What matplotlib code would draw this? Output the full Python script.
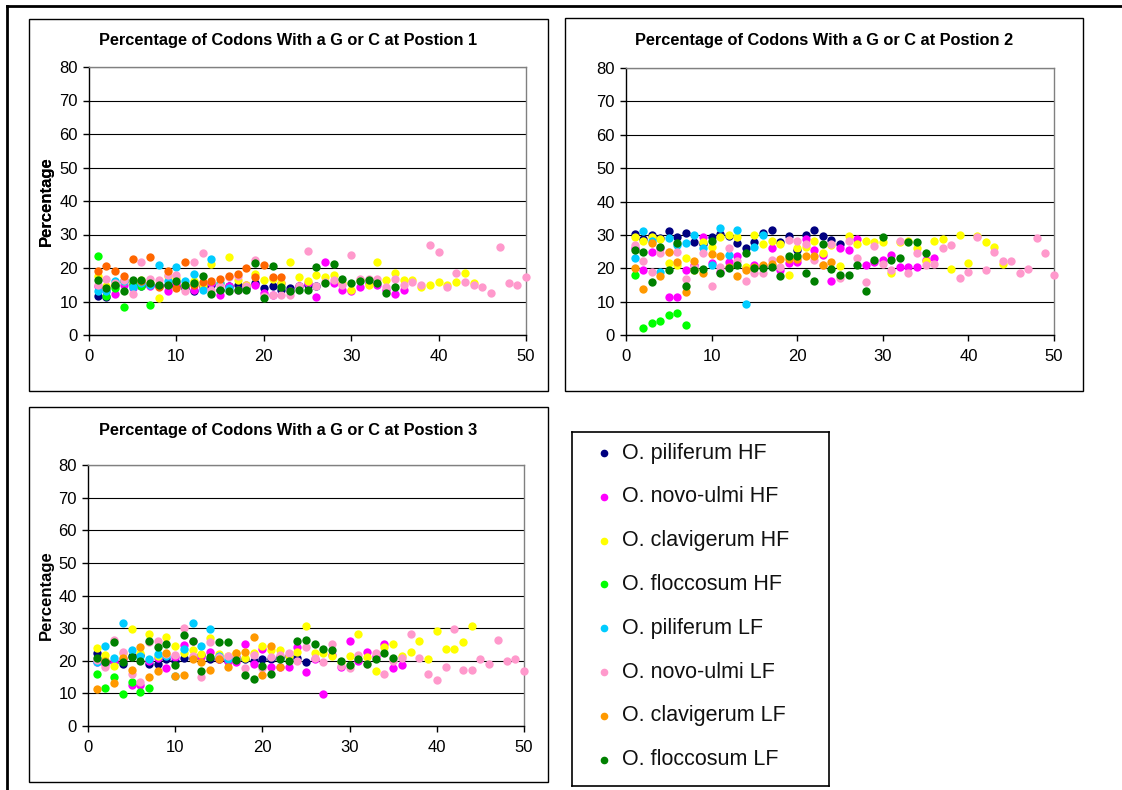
import matplotlib.pyplot as plt
from matplotlib.patches import Rectangle
from matplotlib.lines import Line2D

plt.rcParams['font.family'] = ['Liberation Sans', 'DejaVu Sans']

W, H = 1122, 790

series_names = ['O. piliferum HF', 'O. novo-ulmi HF', 'O. clavigerum HF', 'O. floccosum HF',
                'O. piliferum LF', 'O. novo-ulmi LF', 'O. clavigerum LF', 'O. floccosum LF']
series_colors = ['#000080', '#FF00FF', '#FFFF00', '#00FF00',
                 '#00CCFF', '#FF99CC', '#FF9900', '#008000']

# GC content at codon position 1 (%), one value per gene
pos1_piliferum_hf = [11.5, 11.2, 15, 16, 15.5, 14.5, 15, 14.5, 15, 14.5, 14, 13.2, 14.5, 15, 13.5,
                     14.5, 14.9, 14, 15.5, 14, 14.5, 13.5, 13.9, 14.5, 15, 14.5]
pos1_novo_ulmi_hf = [14.5, 13, 12.3, 15, 14, 15.5, 14.5, 15, 13, 15.5, 14.2, 13.5, 14, 15.5, 11.8,
                     14.5, 13.5, 15, 14.9, 12.5, 12, 15.5, 13, 14.5, 15.5, 11.2, 21.7, 15.5, 13.5,
                     13, 14.4, 15.5, 15, 13.5, 12.2, 13.5]
pos1_clavigerum_hf = [17.5, 14.5, 15.5, 16, 15.8, 16.5, 15.5, 11, 17.5, 17, 15, 16, 15, 21.3, 15.5,
                      23.4, 16.5, 15, 18.2, 16.3, 16.7, 15.5, 21.8, 17.2, 16, 18, 17.3, 18, 15.5,
                      13.5, 16.5, 15, 21.8, 16.3, 18.5, 16.5, 16.4, 14.4, 14.9, 15.8, 15, 15.8,
                      18.5, 15.5]
pos1_floccosum_hf = [23.5, 11.7, 14, 8.5, 15, 14.5, 9]
pos1_piliferum_lf = [13, 13, 16.2, 16, 14.4, 15.5, 15, 20.8, 16, 20.4, 16.2, 18.1, 13.5, 22.7, 15.5, 14]
pos1_novo_ulmi_lf = [15, 16.7, 15.5, 16.3, 12.2, 21.8, 16.7, 16.5, 18, 18, 13.2, 21.8, 24.5, 13.5,
                     14.5, 17.2, 17.5, 14.5, 22.4, 11.5, 12, 11.8, 12, 14.5, 25.2, 14.5, 15.8, 16.5,
                     14.9, 23.8, 16.7, 16.8, 16.7, 14.4, 16.7, 14.9, 15.7, 14.9, 27, 24.9, 14.4,
                     18.5, 15.8, 14.9, 14.4, 12.6, 26.2, 15.4, 14.9, 17.2]
pos1_clavigerum_lf = [19, 20.5, 19, 17.5, 22.8, 16.2, 23.3, 14.2, 19, 14, 21.8, 15, 15.7, 16.2, 16.7,
                      17.7, 18.2, 19.9, 17.3, 21, 17.2, 17.4]
pos1_floccosum_lf = [16.5, 14, 14.8, 13.2, 16.3, 16.5, 15.5, 15, 15, 16, 15, 15.5, 17.7, 12.3, 13.4,
                     13.2, 13.5, 13.4, 21.5, 11, 20.5, 14.2, 13, 13.4, 13.5, 20.3, 15.5, 21.3, 16.7,
                     15.4, 16, 16.5, 15.6, 12.4, 14.4]

# GC content at codon position 2 (%)
pos2_piliferum_hf = [30.3, 28.8, 30.1, 29, 31.1, 29.3, 30.6, 27.8, 27.3, 29.3, 30.3, 29.7, 27.5, 26.1,
                     27.8, 30.7, 31.6, 28, 29.8, 25.5, 30.1, 31.6, 29.8, 28.5, 27.4]
pos2_novo_ulmi_hf = [26, 19.5, 24.9, 26, 11.5, 11.5, 19.5, 21, 29.3, 21.5, 19, 22, 23.7, 20, 21, 20.7,
                     26, 19.4, 21.7, 22, 28.8, 25.5, 24, 16.2, 26, 25.6, 28.8, 20.9, 22, 22.6, 24.1,
                     20.4, 20.4, 20.4, 22.6, 23.2]
pos2_clavigerum_hf = [29.3, 28.3, 29.3, 28.8, 21.7, 20.9, 23.2, 19.4, 28, 26.5, 29.3, 30.1, 29.3, 20.5,
                      30.1, 27.4, 28.3, 27.4, 18.1, 26, 26.3, 28.3, 24.5, 27, 20.7, 29.8, 27.4, 28.3,
                      27.8, 27.8, 18.5, 28, 28.3, 26, 22.2, 28.3, 28.8, 19.9, 30.1, 21.7, 29.6, 27.8,
                      26.5, 21.4]
pos2_floccosum_hf = [18.1, 2.2, 3.6, 4.1, 6, 6.5, 3.1]
pos2_piliferum_lf = [23.2, 31.1, 28.3, 19, 29.2, 27, 27.5, 30.1, 26, 20.9, 32.1, 24.1, 31.6, 9.3, 26.5, 30]
pos2_novo_ulmi_lf = [27, 22.2, 19, 24.7, 25, 25, 16.7, 20.5, 24.5, 14.8, 20.4, 26, 22.2, 16.2, 18.5,
                     18.5, 22.6, 20.4, 28.5, 28.3, 27.3, 22.6, 21, 27.4, 17.2, 28.3, 23.2, 15.8, 26.8,
                     21.3, 19.4, 28.3, 18.5, 24.5, 20.9, 21.3, 26, 26.9, 17.2, 19, 29.3, 19.5, 25,
                     22.2, 22.2, 18.5, 19.9, 29.2, 24.5, 18.1]
pos2_clavigerum_lf = [20, 13.8, 27.5, 17.7, 24.9, 22, 12.9, 22.2, 18.7, 24.2, 23.6, 20.5, 17.7, 19.4,
                      20.5, 21, 21.4, 22.8, 22.7, 22.7, 23.6, 23.6, 21, 22]
pos2_floccosum_lf = [25.5, 24.9, 15.8, 26.5, 19.4, 27.6, 14.7, 19.4, 19.8, 28.3, 18.6, 20, 21, 24.5,
                     20, 20.2, 20.4, 17.6, 23.6, 23.6, 18.5, 16.2, 27.4, 19.9, 18, 18.1, 20.9, 13.3,
                     22.6, 29.3, 22.6, 23.2, 27.9, 27.9, 24.5]

# GC content at codon position 3 (%)
pos3_piliferum_hf = [22.3, 20, 19.5, 19.1, 21.5, 21.8, 19.1, 19.1, 20.5, 20, 20.9, 20.9, 21.8, 20.5,
                     20.5, 20, 21, 20.5, 20, 20.5, 20.5, 21, 21.5, 20.9, 19.6]
pos3_novo_ulmi_hf = [19.5, 19, 20, 20.5, 12.5, 12.5, 20, 20.8, 17.7, 21, 24.7, 26, 21, 22.8, 20.5, 20,
                     19.5, 25, 19.1, 23.6, 18.2, 18.2, 18.2, 24.1, 16.4, 20.5, 9.9, 21.8, 18.2, 26,
                     20, 22.8, 21.5, 25, 17.7, 18.6]
pos3_clavigerum_hf = [24, 21.7, 18.5, 22.5, 29.6, 22.5, 28.3, 21.5, 27.4, 24.6, 22.5, 23.2, 22, 26.9,
                      22.1, 21.5, 22.5, 20.7, 22.4, 24.6, 23.2, 23.2, 21.5, 22.8, 30.6, 22.3, 22.5,
                      21.5, 19.5, 21.4, 28.3, 21, 16.8, 24.1, 25, 21.5, 22.7, 26, 20.5, 29.2, 23.7,
                      23.7, 25.6, 30.6]
pos3_floccosum_hf = [15.8, 11.7, 15, 9.8, 13.5, 10.3, 11.7]
pos3_piliferum_lf = [19.5, 24.5, 20.8, 31.5, 23.2, 21.5, 20.5, 22, 21.5, 15.4, 23.7, 31.5, 24.5, 29.6,
                     21.4, 20.4]
pos3_novo_ulmi_lf = [20.3, 18, 26.4, 22.7, 15.8, 13.5, 25.6, 26, 22, 21.8, 30.1, 21.5, 15, 25.6, 21,
                     21.5, 21.3, 17.7, 21.8, 17.7, 21.3, 21.8, 22.3, 19.8, 24.1, 20.8, 19.6, 25, 18.5,
                     17.7, 21.8, 19, 22.3, 15.9, 20, 20.9, 28.3, 20.9, 15.9, 14, 18.2, 29.7, 17.3,
                     17.3, 20.5, 19.1, 26.5, 20, 20.5, 16.8]
pos3_clavigerum_lf = [11.3, 20, 13.1, 20.8, 17.3, 24.1, 15, 16.8, 22.3, 15.4, 15.5, 20.5, 19.5, 17.3,
                      20.5, 18.2, 22.3, 22.8, 27.4, 15.5, 24.6, 18.2]
pos3_floccosum_lf = [20.9, 19.5, 25.6, 19.5, 21.2, 20, 26, 24.1, 25, 18.7, 27.9, 26.1, 16.8, 21.2, 25.6,
                     25.6, 20.1, 15.5, 14.5, 18.5, 15.9, 20.5, 20, 26, 26.5, 25, 23.7, 23.2, 20, 18.6,
                     20.5, 19.1, 20.5, 22.3, 20.9]

pos1 = [pos1_piliferum_hf, pos1_novo_ulmi_hf, pos1_clavigerum_hf, pos1_floccosum_hf,
        pos1_piliferum_lf, pos1_novo_ulmi_lf, pos1_clavigerum_lf, pos1_floccosum_lf]
pos2 = [pos2_piliferum_hf, pos2_novo_ulmi_hf, pos2_clavigerum_hf, pos2_floccosum_hf,
        pos2_piliferum_lf, pos2_novo_ulmi_lf, pos2_clavigerum_lf, pos2_floccosum_lf]
pos3 = [pos3_piliferum_hf, pos3_novo_ulmi_hf, pos3_clavigerum_hf, pos3_floccosum_hf,
        pos3_piliferum_lf, pos3_novo_ulmi_lf, pos3_clavigerum_lf, pos3_floccosum_lf]


def fig_rect(x0, y0, x1, y1):
    # pixel box (top-left origin) -> figure fraction rect
    return [x0 / W, 1 - y1 / H, (x1 - x0) / W, (y1 - y0) / H]


fig = plt.figure(figsize=(W / 100, H / 100), dpi=100)

# page frame on the top and left
fig.add_artist(Line2D([7 / W, 7 / W], [0, 1 - 6 / H], color='black', lw=2))
fig.add_artist(Line2D([7 / W, 1], [1 - 6 / H, 1 - 6 / H], color='black', lw=2))


def draw_panel(box, plot, title_y, title, data, colors):
    x0, y0, x1, y1 = box
    fig.add_artist(Rectangle((x0 / W, 1 - y1 / H), (x1 - x0) / W, (y1 - y0) / H,
                             transform=fig.transFigure, facecolor='white',
                             edgecolor='black', lw=1, zorder=-5))
    ax = fig.add_axes(fig_rect(*plot))
    for vals, c in zip(data, colors):
        ax.scatter(range(1, len(vals) + 1), vals, s=36, color=c, linewidths=0,
                   clip_on=False, zorder=3)
    ax.set_xlim(0, 50)
    ax.set_ylim(0, 80)
    ax.set_xticks(range(0, 51, 10))
    ax.set_yticks(range(0, 81, 10))
    ax.yaxis.grid(True, color='black', lw=0.8)
    ax.set_axisbelow(True)
    for side in ['left', 'bottom']:
        ax.spines[side].set_color('black')
        ax.spines[side].set_linewidth(1)
    for side in ['top', 'right']:
        ax.spines[side].set_color('#808080')
        ax.spines[side].set_linewidth(1)
    ax.tick_params(axis='both', direction='out', length=4, width=1, labelsize=12)
    ax.tick_params(axis='x', pad=6)
    ax.tick_params(axis='y', pad=4)
    fig.text((x0 + x1) / 2 / W, 1 - title_y / H, title, ha='center', va='center',
             fontsize=11.8, fontweight='bold')
    fig.text(46 / W, 1 - (plot[1] + plot[3]) / 2 / H, 'Percentage', rotation=90,
             ha='center', va='center', fontsize=12, fontweight='bold')
    return ax


colors1 = series_colors[:6] + ['#FF6600'] + series_colors[7:]

draw_panel((29, 19, 548, 391), (89, 67, 526, 335), 41,
           'Percentage of Codons With a G or C at Postion 1', pos1, colors1)
draw_panel((565, 18, 1083, 391), (626, 68, 1054, 335), 41,
           'Percentage of Codons With a G or C at Postion 2', pos2, series_colors)
draw_panel((29, 407, 548, 782), (88, 465, 524, 726), 431,
           'Percentage of Codons With a G or C at Postion 3', pos3, series_colors)

# legend box
lx0, ly0, lx1, ly1 = 572, 432, 829, 786
lax = fig.add_axes(fig_rect(lx0, ly0, lx1, ly1))
lax.set_xlim(lx0, lx1)
lax.set_ylim(ly1, ly0)
lax.set_xticks([])
lax.set_yticks([])
for sp in lax.spines.values():
    sp.set_color('black')
    sp.set_linewidth(1.2)
for i, (name, c) in enumerate(zip(series_names, series_colors)):
    yy = 453 + 43.8 * i
    lax.plot([604], [yy], 'o', color=c, markersize=4.5)
    lax.text(622, yy, name, ha='left', va='center', fontsize=15.5, color='#111111')

fig.savefig('out.png', dpi=100)
